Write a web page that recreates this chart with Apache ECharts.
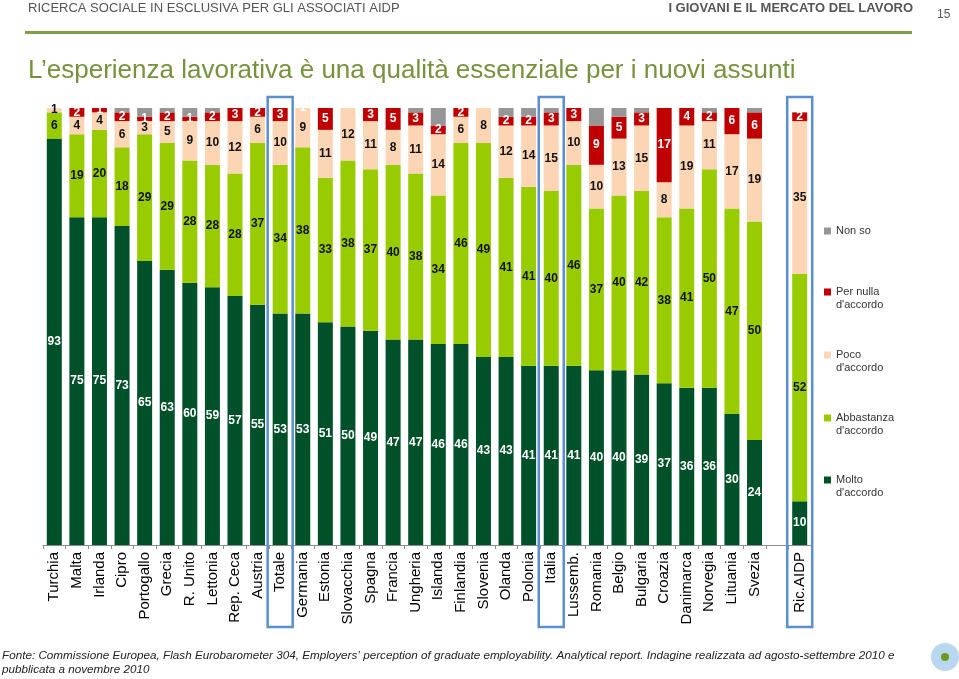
<!DOCTYPE html>
<html><head><meta charset="utf-8">
<script src="https://cdn.jsdelivr.net/npm/echarts@6/dist/echarts.min.js"></script>
<style>html,body{margin:0;padding:0;background:#fff}#c{width:959px;height:679px}</style>
</head><body><div id="c"></div>
<script>
const categories = ['Turchia','Malta','Irlanda','Cipro','Portogallo','Grecia','R. Unito','Lettonia','Rep. Ceca','Austria','Totale','Germania','Estonia','Slovacchia','Spagna','Francia','Ungheria','Islanda','Finlandia','Slovenia','Olanda','Polonia','Italia','Lussemb.','Romania','Belgio','Bulgaria','Croazia','Danimarca','Norvegia','Lituania','Svezia','','Ric.AIDP'];
const molto      = [93,75,75,73,65,63,60,59,57,55,53,53,51,50,49,47,47,46,46,43,43,41,41,41,40,40,39,37,36,36,30,24,null,10];
const abbastanza = [6,19,20,18,29,29,28,28,28,37,34,38,33,38,37,40,38,34,46,49,41,41,40,46,37,40,42,38,41,50,47,50,null,52];
const poco       = [1,4,4,6,3,5,9,10,12,6,10,9,11,12,11,8,11,14,6,8,12,14,15,10,10,13,15,8,19,11,17,19,null,35];
const perNulla   = [0.5,2,1,2,1,2,1,2,3,2,3,1,5,0.5,3,5,3,2,2,0,2,2,3,3,9,5,3,17,4,2,6,6,null,2];
const nonSo      = [0,1,1,1,2,1,2,1,1,1,1,0.5,1,0,1,0.5,1,4,1,1,2,2,1,1,4,2,1,0.5,1,2,1,2,null,0];
const highlighted = ['Totale','Italia','Ric.AIDP'];

const names = ['Molto\nd\'accordo','Abbastanza\nd\'accordo','Poco\nd\'accordo','Per nulla\nd\'accordo','Non so'];
const colors = ['#00502a','#99cc00','#fcd5b5','#c00000','#969696'];
const labelColors = ['#ffffff','#111111','#111111','#ffffff','#000'];
const dataSets = [molto, abbastanza, poco, perNulla, nonSo];

const FONT = "'Liberation Sans', Arial, sans-serif";

const series = dataSets.map((d, i) => ({
  name: names[i], type: 'bar', stack: 'all', barWidth: 15, data: d,
  itemStyle: { color: colors[i] },
  label: {
    show: i < 4, position: 'inside', color: labelColors[i],
    fontFamily: FONT, fontWeight: 'bold', fontSize: 12,
    formatter: p => (p.value >= 1 ? String(p.value) : '')
  },
  emphasis: { disabled: true },
  animation: false
}));

const twoLineIcon = 'path://M0,3H7V10H0Z M0,0H0.01V0.01H0Z M0,25.99H0.01V26H0Z';
const legendTops = [219.5, 280.5, 343.5, 406.5, 468.5];
const legendOrder = [4,3,2,1,0];
const legends = legendOrder.map((si, k) => ({
  data: [names[si]], orient: 'vertical', left: 819, top: legendTops[k],
  itemWidth: 7, itemHeight: si === 4 ? 7 : 26,
  icon: si === 4 ? 'rect' : twoLineIcon, selectedMode: false,
  textStyle: { fontFamily: FONT, fontSize: 11, color: '#333', lineHeight: 13 }
}));

const chart = echarts.init(document.getElementById('c'), null, {renderer: 'canvas'});
chart.setOption({
  animation: false,
  legend: legends,
  grid: { left: 43, top: 108, width: 768, bottom: 134, containLabel: false },
  xAxis: {
    type: 'category', data: categories,
    axisLine: { lineStyle: { color: '#8c8c8c', width: 1 } },
    axisTick: { show: true, alignWithLabel: false, length: 4, lineStyle: { color: '#8c8c8c' } },
    axisLabel: { interval: 0, rotate: 90, fontFamily: FONT, fontSize: 15, color: '#000', margin: 7 }
  },
  yAxis: { type: 'value', min: 0, max: 100, show: false, splitLine: { show: false } },
  series: series,
  graphic: [
    { type: 'text', left: 28, top: 2, style: { text: 'RICERCA SOCIALE IN ESCLUSIVA PER GLI ASSOCIATI AIDP', font: '13px ' + FONT, fill: '#555' } },
    { type: 'text', right: 46, top: 2, style: { text: 'I GIOVANI E IL MERCATO DEL LAVORO', font: 'bold 13px ' + FONT, fill: '#555' } },
    { type: 'text', left: 937, top: 9, style: { text: '15', font: '12px ' + FONT, fill: '#555' } },
    { type: 'rect', shape: { x: 25, y: 31, width: 887, height: 3 }, style: { fill: '#7f9f45' } },
    { type: 'text', left: 28, top: 58, style: { text: 'L\u2019esperienza lavorativa \u00e8 una qualit\u00e0 essenziale per i nuovi assunti', font: '26px ' + FONT, fill: '#76923c' } },
    { type: 'text', left: 2, top: 649, style: { text: 'Fonte: Commissione Europea, Flash Eurobarometer 304, Employers\u2019 perception of graduate employability. Analytical report. Indagine realizzata ad agosto-settembre 2010 e\npubblicata a novembre 2010', font: 'italic 11.7px ' + FONT, fill: '#222', lineHeight: 14 } },
    { type: 'circle', shape: { cx: 945, cy: 657, r: 14 }, style: { fill: '#b9d7ee' } },
    { type: 'circle', shape: { cx: 945, cy: 657, r: 4 }, style: { fill: '#6d9a1e' } }
  ]
});

// highlight boxes around selected categories, positioned from the axis scale
const boxes = highlighted.map((cat, i) => {
  const cx = chart.convertToPixel({ xAxisIndex: 0 }, cat);
  const yTop = chart.convertToPixel({ yAxisIndex: 0 }, 100) - 11;
  const yBot = chart.convertToPixel({ yAxisIndex: 0 }, 0) + 82;
  return { id: 'box' + i, type: 'rect', z: 100, shape: { x: cx - 12.5, y: yTop, width: 25, height: yBot - yTop },
    style: { fill: 'none', stroke: '#5b8fd0', lineWidth: 2.5 } };
});
chart.setOption({ graphic: boxes });
</script>
</body></html>
